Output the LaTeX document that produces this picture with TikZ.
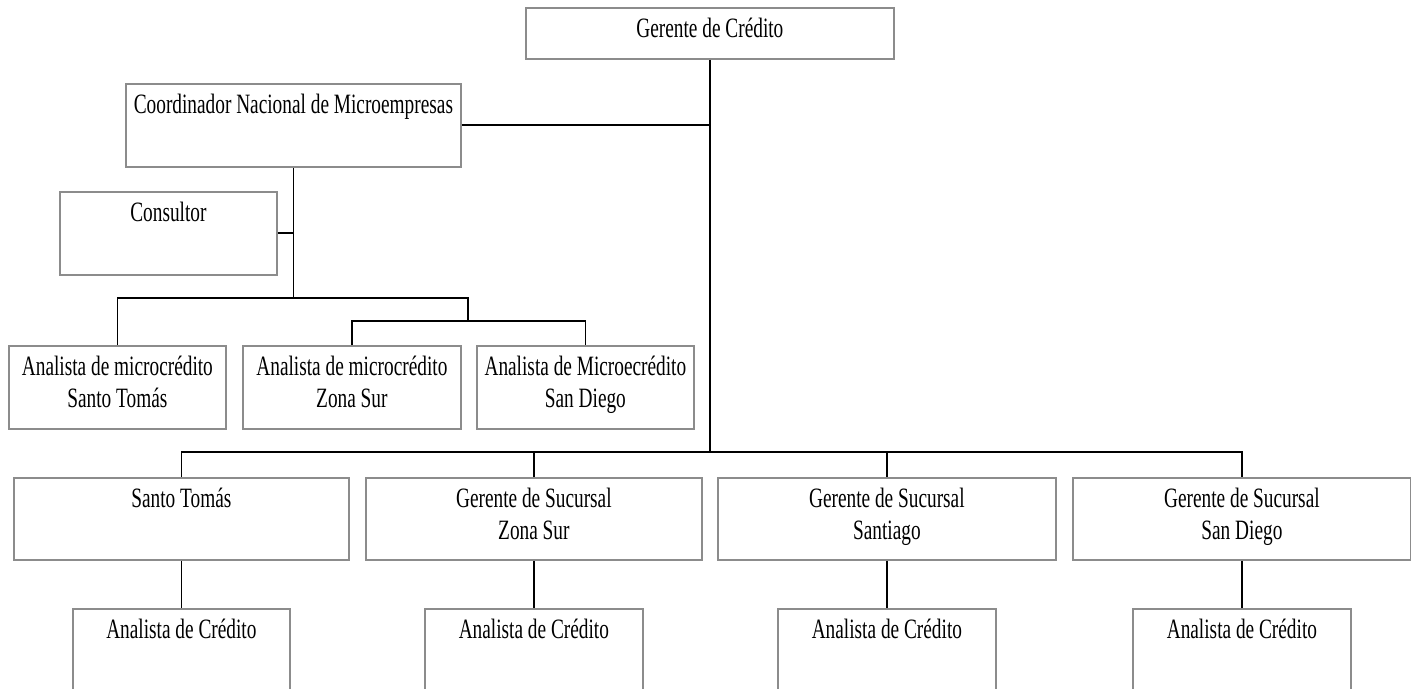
\documentclass[tikz,border=0pt]{standalone}
\usepackage{fontspec}
\setmainfont{Liberation Serif}[FakeStretch=0.69]
\begin{document}
\begin{tikzpicture}[x=0.5pt, y=-0.5pt,
    caja/.style={draw=black!45, line width=0.9pt, anchor=north west,
        inner xsep=0pt, inner ysep=0pt, align=center,
        font=\fontsize{14}{16}\selectfont, text height=15pt, text depth=26.5pt},
    dosl/.style={text height=31pt, text depth=10.5pt},
    linea/.style={line width=0.9pt}]

    % Marco del dibujo
    \useasboundingbox (0,0) rectangle (1411,689);
    \clip (0,0) rectangle (1411,689);

    % Gerencia y coordinacion
    \node[caja, minimum width=184pt, text depth=10.5pt] (gerente) at (525,7) {Gerente de Crédito};
    \node[caja, minimum width=167.5pt] (coord) at (125,83) {Coordinador Nacional de Microempresas};
    \node[caja, minimum width=108.5pt] (consultor) at (59,191) {Consultor};

    % Analistas de microcredito
    \node[caja, dosl, minimum width=108.5pt] (amST) at (8,345) {Analista de microcrédito\\Santo Tomás};
    \node[caja, dosl, minimum width=109pt] (amZS) at (242,345) {Analista de microcrédito\\Zona Sur};
    \node[caja, dosl, minimum width=108.5pt] (amSD) at (476,345) {Analista de Microecrédito\\San Diego};

    % Sucursales
    \node[caja, minimum width=167.5pt, text depth=26pt] (sucST) at (13,477) {Santo Tomás};
    \node[caja, dosl, minimum width=168pt, text depth=10pt] (sucZS) at (365,477) {Gerente de Sucursal\\Zona Sur};
    \node[caja, dosl, minimum width=169pt, text depth=10pt] (sucSA) at (717,477) {Gerente de Sucursal\\Santiago};
    \node[caja, dosl, minimum width=169pt, text depth=10pt] (sucSD) at (1072,477) {Gerente de Sucursal\\San Diego};

    % Analistas de credito
    \node[caja, minimum width=108.5pt, text depth=30pt] (acST) at (72,608) {Analista de Crédito};
    \node[caja, minimum width=109pt, text depth=30pt] (acZS) at (424,608) {Analista de Crédito};
    \node[caja, minimum width=109pt, text depth=30pt] (acSA) at (777,608) {Analista de Crédito};
    \node[caja, minimum width=109pt, text depth=30pt] (acSD) at (1132,608) {Analista de Crédito};

    % Niveles de las barras
    \coordinate (barraA) at (0,298);
    \coordinate (barraC) at (468,321);
    \coordinate (barraB) at (0,452);

    % Conectores
    \draw[linea] (gerente.south) -- (gerente.south |- barraB);
    \draw[linea] (coord.east) -- (coord.east -| gerente.south);
    \draw[linea] (coord.south) -- (coord.south |- barraA);
    \draw[linea] (consultor.east) -- (consultor.east -| coord.south);
    \draw[linea] (amST.north) -- (amST.north |- barraA) -- (barraC |- barraA) -- (barraC);
    \draw[linea] (amZS.north) -- (amZS.north |- barraC) -- (amSD.north |- barraC) -- (amSD.north);
    \draw[linea] (sucST.north) -- (sucST.north |- barraB) -- (sucSD.north |- barraB) -- (sucSD.north);
    \draw[linea] (sucZS.north) -- (sucZS.north |- barraB);
    \draw[linea] (sucSA.north) -- (sucSA.north |- barraB);
    \draw[linea] (sucST.south) -- (acST.north);
    \draw[linea] (sucZS.south) -- (acZS.north);
    \draw[linea] (sucSA.south) -- (acSA.north);
    \draw[linea] (sucSD.south) -- (acSD.north);
\end{tikzpicture}
\end{document}
